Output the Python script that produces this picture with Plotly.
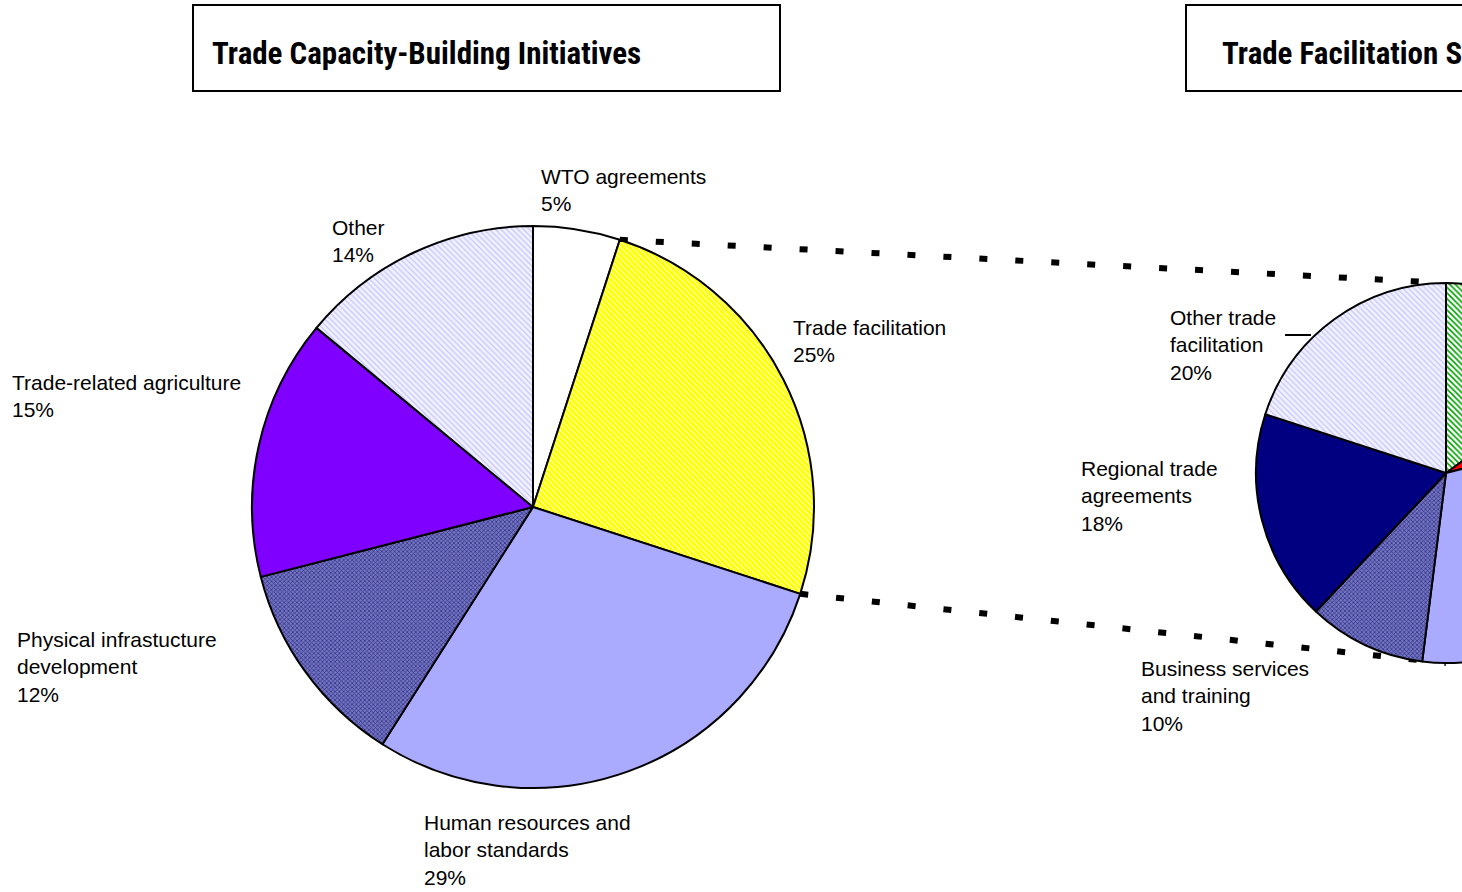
import math
import plotly.graph_objects as go

# ---------------- data ----------------
left_labels = ["WTO agreements", "Trade facilitation", "Human resources and<br>labor standards",
               "Physical infrastucture<br>development", "Trade-related agriculture", "Other"]
left_values = [5, 25, 29, 12, 15, 14]

right_labels = ["Customs operations", "E-commerce and IT", "Trade promotion",
                "Business services<br>and training", "Regional trade<br>agreements",
                "Other trade<br>facilitation"]
right_values = [15, 6, 31, 10, 18, 20]

left_title = "Trade Capacity-Building Initiatives"
right_title = "Trade Facilitation Subcategories"

# ---------------- geometry (pixels) ----------------
W, H = 1700, 892
L_CX, L_CY, L_R = 533, 507, 281
R_CX, R_CY, R_R = 1446, 473, 190

def dom(cx, cy, r):
    return dict(x=[(cx - r) / W, (cx + r) / W], y=[(H - cy - r) / H, (H - cy + r) / H])

def px(x):
    return x / W

def py(y):
    return 1 - y / H

# styles: (background colour, pattern shape, pattern colour, size, solidity)
left_bg = ["#ffffff", "#ffff00", "#aaaaff", "#7474c4", "#8000ff", "#f2f2ff"]
left_shapes = ["", "\\", "", "x", "", "\\"]
left_fg = ["#ffffff", "#ffffb0", "#aaaaff", "#2a2a78", "#8000ff", "#c4c4ff"]
left_size = [6, 4, 6, 3, 6, 4]
left_sol = [0.3, 0.3, 0.3, 0.4, 0.3, 0.3]

right_bg = ["#ffffff", "#ff0000", "#aaaaff", "#7474c4", "#000080", "#f2f2ff"]
right_shapes = ["\\", "", "", "x", "", "\\"]
right_fg = ["#00a000", "#ff0000", "#aaaaff", "#2a2a78", "#000080", "#c4c4ff"]
right_size = [4, 6, 6, 3, 6, 4]
right_sol = [0.4, 0.3, 0.3, 0.4, 0.3, 0.3]

fig = go.Figure()
fig.add_trace(go.Pie(
    labels=[l.replace("<br>", " ") for l in left_labels], values=left_values,
    sort=False, direction="clockwise", rotation=0, textinfo="none",
    domain=dom(L_CX, L_CY, L_R), hoverinfo="skip",
    marker=dict(colors=left_bg, line=dict(color="black", width=2),
                pattern=dict(shape=left_shapes, fgcolor=left_fg, bgcolor=left_bg,
                             size=left_size, solidity=left_sol, fillmode="replace")),
))
fig.add_trace(go.Pie(
    labels=[l.replace("<br>", " ") for l in right_labels], values=right_values,
    sort=False, direction="clockwise", rotation=0, textinfo="none",
    domain=dom(R_CX, R_CY, R_R), hoverinfo="skip",
    marker=dict(colors=right_bg, line=dict(color="black", width=2),
                pattern=dict(shape=right_shapes, fgcolor=right_fg, bgcolor=right_bg,
                             size=right_size, solidity=right_sol, fillmode="replace")),
))

# connector lines from the Trade facilitation slice to the secondary pie
tot = sum(left_values)
a0 = 2 * math.pi * left_values[0] / tot
a1 = 2 * math.pi * (left_values[0] + left_values[1]) / tot
p0 = (L_CX + L_R * math.sin(a0), L_CY - L_R * math.cos(a0))
p1 = (L_CX + L_R * math.sin(a1), L_CY - L_R * math.cos(a1))
for (sx, sy), (ex, ey) in [(p0, (R_CX, R_CY - R_R)), (p1, (R_CX, R_CY + R_R))]:
    fig.add_shape(type="line", xref="paper", yref="paper", layer="below",
                  x0=px(sx), y0=py(sy), x1=px(ex), y1=py(ey),
                  line=dict(color="black", width=6, dash="8px,28px"))

# title boxes
for x0, x1, txt, tx in [(193, 780, left_title, 210), (1186, 1800, right_title, 1220)]:
    fig.add_shape(type="rect", xref="paper", yref="paper",
                  x0=px(x0), x1=px(x1), y0=py(91), y1=py(5),
                  line=dict(color="black", width=2), fillcolor="white")
    fig.add_annotation(x=px(tx), y=py(53), xref="paper", yref="paper", text=txt,
                       showarrow=False, xanchor="left", yanchor="middle",
                       font=dict(family="Liberation Sans Narrow, Roboto Condensed, DejaVu Sans Condensed",
                                 size=31, color="black", weight="bold"))

# slice labels
LFONT = dict(family="Liberation Sans, Arial", size=21, color="black")
label_pos_left = [(539, 163), (791, 314), (422, 809), (15, 626), (10, 369), (330, 214)]
for lab, v, (x, y) in zip(left_labels, left_values, label_pos_left):
    fig.add_annotation(x=px(x), y=py(y), xref="paper", yref="paper",
                       text=f"{lab}<br>{v}%", showarrow=False, align="left",
                       xanchor="left", yanchor="top", font=LFONT)

label_pos_right = {3: (1139, 655), 4: (1079, 455), 5: (1168, 304)}
for i, (x, y) in label_pos_right.items():
    fig.add_annotation(x=px(x), y=py(y), xref="paper", yref="paper",
                       text=f"{right_labels[i]}<br>{right_values[i]}%", showarrow=False,
                       align="left", xanchor="left", yanchor="top", font=LFONT)
# leader line for "Other trade facilitation"
fig.add_shape(type="line", xref="paper", yref="paper", x0=px(1285), x1=px(1311),
              y0=py(335), y1=py(335), line=dict(color="black", width=2))

fig.update_layout(width=W, height=H, margin=dict(l=0, r=0, t=0, b=0),
                  paper_bgcolor="white", plot_bgcolor="white", showlegend=False)

fig.write_html("out.html",
               post_script="document.body.style.margin='0';document.body.style.overflow='hidden';")
